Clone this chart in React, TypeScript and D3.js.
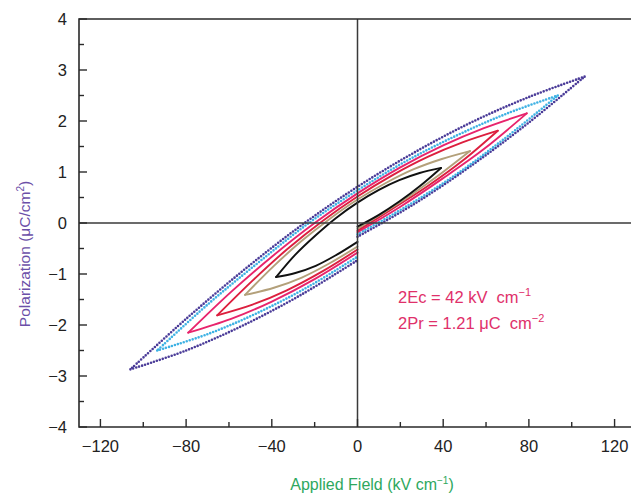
import { useEffect, useRef } from 'react'
import * as d3 from 'd3'

type Pt = [number, number]

// each loop: start at E=0, up to +Emax, back down to -Emax, back to E=0
const loop106: Pt[] = [
  [0, -0.27], [26, 0.36], [53, 1.12], [80, 1.97], [106, 2.87],
  [80, 2.47], [53, 1.97], [26, 1.37], [0, 0.71], [-26, -0.04], [-53, -0.92], [-80, -1.88], [-106, -2.87],
  [-80, -2.5], [-53, -2.0], [-26, -1.4], [0, -0.73],
]
const loop93: Pt[] = [
  [0, -0.22], [23, 0.33], [47, 0.98], [70, 1.7], [93.5, 2.5],
  [70, 2.15], [47, 1.73], [23, 1.22], [0, 0.64], [-23, -0.01], [-47, -0.8], [-70, -1.6], [-93.5, -2.5],
  [-70, -2.18], [-47, -1.77], [-23, -1.25], [0, -0.66],
]
const loop79: Pt[] = [
  [0, -0.18], [20, 0.32], [40, 0.88], [59, 1.45], [79, 2.15],
  [59, 1.86], [40, 1.52], [20, 1.09], [0, 0.58], [-20, 0.0], [-40, -0.66], [-59, -1.35], [-79, -2.15],
  [-59, -1.88], [-40, -1.54], [-20, -1.1], [0, -0.58],
]
const loop65: Pt[] = [
  [0, -0.15], [16, 0.27], [33, 0.73], [49, 1.22], [65.5, 1.81],
  [49, 1.58], [33, 1.3], [16, 0.93], [0, 0.52], [-16, 0.05], [-33, -0.52], [-49, -1.13], [-65.5, -1.81],
  [-49, -1.6], [-33, -1.32], [-16, -0.94], [0, -0.52],
]
const loop52: Pt[] = [
  [0, -0.11], [13, 0.22], [26, 0.58], [39, 0.97], [52.5, 1.41],
  [39, 1.25], [26, 1.05], [13, 0.78], [0, 0.46], [-13, 0.08], [-26, -0.35], [-39, -0.84], [-52.5, -1.41],
  [-39, -1.27], [-26, -1.07], [-13, -0.79], [0, -0.46],
]
const loop39: Pt[] = [
  [0, -0.07], [10, 0.16], [19.5, 0.42], [29, 0.72], [39, 1.08],
  [29, 0.98], [19.5, 0.84], [10, 0.65], [0, 0.4], [-10, 0.1], [-19.5, -0.24], [-29, -0.62], [-38, -1.06],
  [-29, -0.98], [-19.5, -0.84], [-10, -0.63], [0, -0.37],
]

const xTicks = [-120, -80, -40, 0, 40, 80, 120]
const xMinor = [-100, -60, -20, 20, 60, 100]
const yTicks = [-4, -3, -2, -1, 0, 1, 2, 3, 4]
const yMinor = [-3.5, -2.5, -1.5, -0.5, 0.5, 1.5, 2.5, 3.5]

const series = [
  { data: loop106, color: '#4a3b98', dotted: true },
  { data: loop93, color: '#3fb2e4', dotted: true },
  { data: loop79, color: '#e8246c', dotted: false },
  { data: loop65, color: '#dc1f3e', dotted: false },
  { data: loop52, color: '#b3a07a', dotted: false },
  { data: loop39, color: '#111111', dotted: false },
]

export default function App() {
  const svgRef = useRef<SVGSVGElement>(null)

  useEffect(() => {
    const svg = d3.select(svgRef.current)
    svg.selectAll('*').remove()

    const left = 79, top = 19, bottom = 427
    const x = d3.scaleLinear().domain([-130, 130]).range([left, 636])
    const y = d3.scaleLinear().domain([-4, 4]).range([bottom, top])
    const font = '"Liberation Sans", Arial, sans-serif'

    // loops, split at tips so they stay sharp
    const line = d3
      .line<Pt>()
      .x((d) => x(d[0]))
      .y((d) => y(d[1]))
      .curve(d3.curveCatmullRom.alpha(0.5))

    series.forEach((s) => {
      const iMax = d3.maxIndex(s.data, (d) => d[0])
      const iMin = d3.minIndex(s.data, (d) => d[0])
      const parts = [s.data.slice(0, iMax + 1), s.data.slice(iMax, iMin + 1), s.data.slice(iMin)]
      parts.forEach((p) => {
        svg
          .append('path')
          .datum(p)
          .attr('fill', 'none')
          .attr('stroke', s.color)
          .attr('stroke-width', s.dotted ? 2.6 : 1.9)
          .attr('stroke-linecap', 'round')
          .attr('stroke-linejoin', 'round')
          .attr('stroke-dasharray', s.dotted ? '0 3.1' : null)
          .attr('d', line)
      })
    })

    // crosshair
    svg.append('line').attr('x1', x(0)).attr('x2', x(0)).attr('y1', top).attr('y2', bottom)
      .attr('stroke', '#3a3a3a').attr('stroke-width', 1.5)
    svg.append('line').attr('x1', left).attr('x2', 640).attr('y1', y(0)).attr('y2', y(0))
      .attr('stroke', '#3a3a3a').attr('stroke-width', 1.5)

    // frame
    svg.append('path')
      .attr('d', `M640,${top}H${left}V${bottom}H640`)
      .attr('fill', 'none').attr('stroke', '#2a2a2a').attr('stroke-width', 1.6)

    const ax = svg.append('g').attr('stroke', '#2a2a2a').attr('stroke-width', 1.4)
    yTicks.forEach((t) => ax.append('line').attr('x1', left).attr('x2', left + 8).attr('y1', y(t)).attr('y2', y(t)))
    yMinor.forEach((t) => ax.append('line').attr('x1', left).attr('x2', left + 5).attr('y1', y(t)).attr('y2', y(t)))
    xTicks.forEach((t) => ax.append('line').attr('x1', x(t)).attr('x2', x(t)).attr('y1', bottom).attr('y2', bottom - 8))
    xMinor.forEach((t) => ax.append('line').attr('x1', x(t)).attr('x2', x(t)).attr('y1', bottom).attr('y2', bottom - 5))

    svg.append('g').selectAll('text').data(yTicks).join('text')
      .attr('x', 67).attr('y', (d) => y(d)).attr('dy', '0.35em')
      .attr('text-anchor', 'end').attr('font-family', font).attr('font-size', 16.5).attr('fill', '#222')
      .text((d) => (d < 0 ? '\u2212' + Math.abs(d) : String(d)))

    svg.append('g').selectAll('text').data(xTicks).join('text')
      .attr('x', (d) => x(d)).attr('y', 452)
      .attr('text-anchor', 'middle').attr('font-family', font).attr('font-size', 16.5).attr('fill', '#222')
      .text((d) => (d < 0 ? '\u2212' + Math.abs(d) : String(d)))

    // axis titles
    const xt = svg.append('text').attr('x', 372).attr('y', 490).attr('text-anchor', 'middle')
      .attr('font-family', font).attr('font-size', 16).attr('fill', '#2ea85e')
    xt.append('tspan').text('Applied Field (kV cm')
    xt.append('tspan').attr('dy', -6).attr('font-size', 10).text('\u22121')
    xt.append('tspan').attr('dy', 6).text(')')

    const yt = svg.append('text').attr('transform', 'translate(30,254) rotate(-90)').attr('text-anchor', 'middle')
      .attr('font-family', font).attr('font-size', 15.5).attr('fill', '#6b4fa8')
    yt.append('tspan').text('Polarization (\u03bcC/cm')
    yt.append('tspan').attr('dy', -6).attr('font-size', 10).text('2')
    yt.append('tspan').attr('dy', 6).text(')')

    // annotation
    const a1 = svg.append('text').attr('x', 398).attr('y', 303)
      .attr('font-family', font).attr('font-size', 16.5).attr('fill', '#e0306a')
    a1.append('tspan').text('2Ec = 42 kV\u00a0 cm')
    a1.append('tspan').attr('dy', -7).attr('font-size', 11).text('\u22121')
    const a2 = svg.append('text').attr('x', 398).attr('y', 329)
      .attr('font-family', font).attr('font-size', 16.5).attr('fill', '#e0306a')
    a2.append('tspan').text('2Pr = 1.21 \u03bcC\u00a0 cm')
    a2.append('tspan').attr('dy', -7).attr('font-size', 11).text('\u22122')
  }, [])

  return (
    <svg
      ref={svgRef}
      width={631}
      height={495}
      style={{ position: 'absolute', left: 0, top: 0, background: '#fff' }}
    />
  )
}
